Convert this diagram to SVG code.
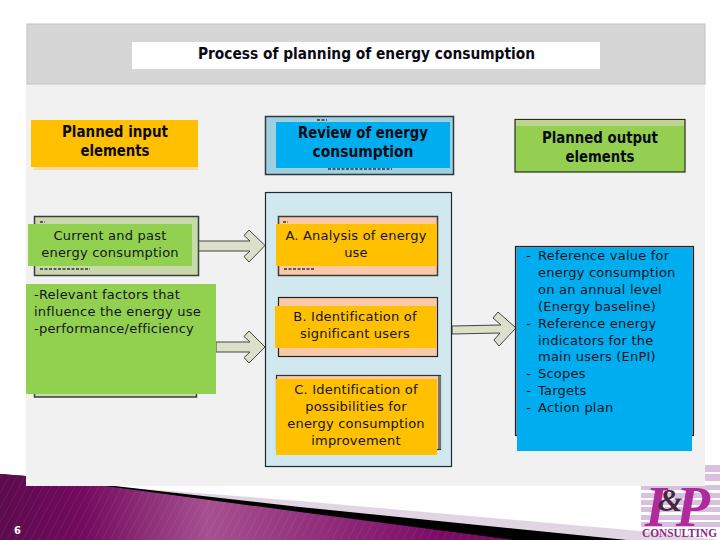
<svg xmlns="http://www.w3.org/2000/svg" width="720" height="540" viewBox="0 0 720 540">
<style>
.h{font-family:"DejaVu Sans Condensed","DejaVu Sans",sans-serif;font-stretch:condensed;font-weight:700;font-size:16px;fill:#0a0a14;text-anchor:middle}
.b{font-family:"DejaVu Sans",sans-serif;font-size:13px;letter-spacing:.22px;fill:#14141e}
.m{text-anchor:middle}
.e{stroke:#3c3c3c;stroke-width:1.5}
.o{fill:#ffc000}
.g{fill:#92d050}
.c{fill:#dcdfc9;stroke:#444;stroke-width:1}
.r{fill:none;stroke:#333;stroke-width:1.5;stroke-dasharray:3 1.5}
.s{fill:#d9c0df}
</style>
<defs>
<linearGradient id="pg" gradientUnits="userSpaceOnUse" x1="0" y1="0" x2="520" y2="0">
<stop offset="0" stop-color="#5c0a4e"/><stop offset=".16" stop-color="#740a5e"/><stop offset=".4" stop-color="#a65090"/><stop offset=".6" stop-color="#93307c"/><stop offset=".85" stop-color="#7c0b66"/><stop offset="1" stop-color="#7c0b66"/>
</linearGradient>
<pattern id="st" width="7" height="7" patternUnits="userSpaceOnUse" patternTransform="rotate(28)"><rect width="1" height="7" fill="#fff" opacity=".06"/></pattern>
</defs>
<rect width="720" height="540" fill="#fff"/>
<g id="footer">
<polygon points="105,486 300,501 640,531 720,540 540,540 300,507" fill="#e2d5e3"/>
<polygon points="0,474 26,476 300,507 627,540 0,540" fill="#000"/>
<polygon points="0,474 26,476 105,486 300,512 513,540 0,540" fill="url(#pg)"/>
<polygon points="0,474 26,476 105,486 300,512 513,540 0,540" fill="url(#st)"/>
<text x="14" y="534" font-family="DejaVu Sans, sans-serif" font-weight="700" font-size="10" fill="#fff">6</text>
</g>
<g id="logo">
<rect class="s" x="705" y="465" width="15" height="7"/>
<rect class="s" x="705" y="474" width="15" height="7"/>
<rect class="s" x="641" y="485" width="79" height="5"/>
<rect class="s" x="641" y="493" width="79" height="5"/>
<rect class="s" x="641" y="500" width="79" height="5"/>
<rect class="s" x="641" y="507" width="79" height="5"/>
<rect class="s" x="641" y="515" width="79" height="5"/>
<rect class="s" x="641" y="522" width="79" height="5"/>
<text x="645" y="526" font-family="Liberation Serif, serif" font-weight="700" font-style="italic" font-size="56" fill="#b02a9c">I<tspan dx="-9" dy="-15" font-size="32" fill="#43283f">&amp;</tspan><tspan dx="-7" dy="15">P</tspan></text>
<text x="642" y="537" font-family="Liberation Serif, serif" font-weight="700" font-size="11.500" fill="#8a2a85" textLength="75" lengthAdjust="spacingAndGlyphs">CONSULTING</text>
</g>
<g id="panel"><rect x="26" y="84" width="679" height="402" fill="#f1f1f1"/></g>
<g id="title">
<rect x="27" y="24" width="678" height="60" fill="#d6d6d6" stroke="#c2c2c2"/>
<rect x="132" y="42" width="468" height="27" fill="#fff"/>
<text class="h" x="366.500" y="59" textLength="337" lengthAdjust="spacingAndGlyphs">Process of planning of energy consumption</text>
</g>
<g id="connectors">
<path class="c" d="M198 241H250L244 235.500L249 230L265 245.500L249 262L244 256.500L250 251H198Z"/>
<path class="c" d="M216 342H250L244 336.500L249 331L265 347L249 363L244 357.500L250 352H216Z"/>
<path class="c" d="M452 326L501 325L493 318L498 312L516 328L499 346L494 340L500 333L452 334Z"/>
</g>
<g id="input-head">
<rect x="34" y="123" width="164" height="47" fill="#f6d9a6"/>
<rect class="o" x="31" y="120" width="167" height="47"/>
<text class="h" x="115" y="137" textLength="106" lengthAdjust="spacingAndGlyphs">Planned input</text>
<text class="h" x="115" y="156" textLength="69" lengthAdjust="spacingAndGlyphs">elements</text>
</g>
<g id="input-current">
<rect class="e" x="34.500" y="216.500" width="164" height="59" fill="#c9d9ab"/>
<path class="r" d="M40 222h5M40 269h50"/>
<rect class="g" x="28" y="224" width="164" height="42"/>
<text class="b m" x="110" y="240">Current and past</text>
<text class="b m" x="110" y="257">energy consumption</text>
</g>
<g id="input-factors">
<rect class="e" x="34.500" y="300" width="162" height="97" fill="#c9d9ab"/>
<rect class="g" x="26" y="284" width="190" height="110"/>
<text class="b" x="34" y="299">-Relevant factors that</text>
<text class="b" x="34" y="316">influence the energy use</text>
<text class="b" x="34" y="333">-performance/efficiency</text>
</g>
<g id="review-head">
<rect x="265.500" y="116.500" width="188" height="58" fill="#9fd0e0" stroke="#2a3a40" stroke-width="1.500"/>
<path class="r" d="M317 120h10M328 169h64"/>
<rect x="276" y="122" width="174" height="46" fill="#00aeef"/>
<text class="h" x="363" y="138" textLength="130" lengthAdjust="spacingAndGlyphs">Review of energy</text>
<text class="h" x="363" y="157" textLength="101" lengthAdjust="spacingAndGlyphs">consumption</text>
</g>
<g id="review-panel"><rect x="265.500" y="192.500" width="186" height="274" fill="#d2e8ef" stroke="#1e2a2e" stroke-width="1.200"/></g>
<g id="step-a">
<rect class="e" x="278.500" y="216.500" width="159" height="59" fill="#fbc9a8"/>
<path class="r" d="M283 222h5M284 269h30"/>
<rect class="o" x="276" y="224" width="161" height="42"/>
<text class="b m" x="356" y="240">A. Analysis of energy</text>
<text class="b m" x="356" y="257">use</text>
</g>
<g id="step-b">
<rect x="278.500" y="297.500" width="159" height="59" fill="#fbc9a8" stroke="#222" stroke-width="1.200"/>
<rect class="o" x="275" y="306" width="161" height="42"/>
<text class="b m" x="355" y="321">B. Identification of</text>
<text class="b m" x="355" y="338">significant users</text>
</g>
<g id="step-c">
<rect x="276.500" y="375.500" width="164" height="74" fill="#fbc9a8" stroke="#333" stroke-width="1.200"/>
<rect x="438" y="376" width="3" height="73" fill="#77736a"/>
<rect class="o" x="276" y="379" width="161" height="76"/>
<text class="b m" x="356" y="394">C. Identification of</text>
<text class="b m" x="356" y="411">possibilities for</text>
<text class="b m" x="356" y="428">energy consumption</text>
<text class="b m" x="356" y="445">improvement</text>
</g>
<g id="output-head">
<rect x="515" y="119.500" width="170" height="52.500" fill="#94cf52" stroke="#26301c" stroke-width="1.200"/>
<rect x="516" y="120" width="168" height="6" fill="#bfd48f"/>
<text class="h" x="600" y="143" textLength="116" lengthAdjust="spacingAndGlyphs">Planned output</text>
<text class="h" x="600" y="162" textLength="69" lengthAdjust="spacingAndGlyphs">elements</text>
</g>
<g id="output-list">
<rect x="515.500" y="246.500" width="178" height="189" fill="#6a9fb5" stroke="#223" stroke-width="1.200"/>
<rect x="517" y="248" width="175" height="203" fill="#00aeef"/>
<text class="b" x="526" y="260">-</text><text class="b" x="538" y="260">Reference value for</text>
<text class="b" x="538" y="277">energy consumption</text>
<text class="b" x="538" y="294">on an annual level</text>
<text class="b" x="538" y="311">(Energy baseline)</text>
<text class="b" x="526" y="328">-</text><text class="b" x="538" y="328">Reference energy</text>
<text class="b" x="538" y="345">indicators for the</text>
<text class="b" x="538" y="361">main users (EnPI)</text>
<text class="b" x="526" y="378">-</text><text class="b" x="538" y="378">Scopes</text>
<text class="b" x="526" y="395">-</text><text class="b" x="538" y="395">Targets</text>
<text class="b" x="526" y="412">-</text><text class="b" x="538" y="412">Action plan</text>
</g>
</svg>
